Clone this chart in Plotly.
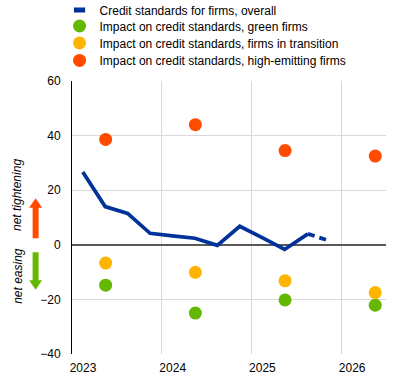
import plotly.graph_objects as go

# ---- data ----
line_x = [2023.12, 2023.37, 2023.62, 2023.87, 2024.12, 2024.37, 2024.62, 2024.87, 2025.12, 2025.37, 2025.63]
line_y = [26.7, 14.0, 11.5, 4.2, 3.3, 2.4, -0.2, 6.8, 2.6, -1.7, 4.0]
fcst_x = [2025.63, 2025.88]
fcst_y = [4.0, 1.3]

dot_x = [2023.375, 2024.375, 2025.375, 2026.38]
green_y = [-14.8, -25.0, -20.2, -22.1]
transition_y = [-6.7, -10.1, -13.2, -17.5]
high_y = [38.6, 44.0, 34.5, 32.5]

names = [
    "Credit standards for firms, overall",
    "Impact on credit standards, green firms",
    "Impact on credit standards, firms in transition",
    "Impact on credit standards, high-emitting firms",
]
year_ticks = [2023, 2024, 2025, 2026]

BLUE = "#003299"
GREEN = "#65B800"
YELLOW = "#FFB400"
RED = "#FF4B00"
FONT = "Liberation Sans, Arial, sans-serif"

W, H = 402, 381
L, R, T, B = 71.5, 15.5, 80.5, 26.5
W_PLOT = W - L - R
H_PLOT = H - T - B

def px2x(px):
    return (px - L) / W_PLOT

def px2y(py):
    return 1 - (py - T) / H_PLOT

fig = go.Figure()
fig.add_trace(go.Scatter(x=line_x, y=line_y, mode="lines", line=dict(color=BLUE, width=3.7),
                         showlegend=False, hoverinfo="skip"))
fig.add_trace(go.Scatter(x=fcst_x, y=fcst_y, mode="lines", line=dict(color=BLUE, width=3.7, dash="7px,5px"),
                         showlegend=False, hoverinfo="skip"))
# legend entry for the line (short thick bar)
fig.add_trace(go.Scatter(x=[None], y=[None], mode="markers", name=names[0], legend="legend",
                         marker=dict(symbol="line-ew", size=8, color=BLUE,
                                     line=dict(color=BLUE, width=5))))
for yv, col, nm, lg in [(green_y, GREEN, names[1], "legend2"),
                        (transition_y, YELLOW, names[2], "legend3"),
                        (high_y, RED, names[3], "legend4")]:
    fig.add_trace(go.Scatter(x=dot_x, y=yv, mode="markers", name=nm, legend=lg,
                             marker=dict(color=col, size=13, line=dict(width=0))))

row_y = [9.3, 25.3, 42.3, 59.8]
legend_common = dict(x=px2x(59), xanchor="left", yanchor="middle",
                     bgcolor="rgba(0,0,0,0)", font=dict(family=FONT, size=12, color="#000000"))

fig.update_layout(
    width=W, height=H,
    margin=dict(l=L, r=R, t=T, b=B, autoexpand=False),
    paper_bgcolor="white", plot_bgcolor="white",
    font=dict(family=FONT, size=12, color="#000000"),
    legend=dict(y=px2y(row_y[0]), **legend_common),
    legend2=dict(y=px2y(row_y[1]), **legend_common),
    legend3=dict(y=px2y(row_y[2]), **legend_common),
    legend4=dict(y=px2y(row_y[3]), **legend_common),
    xaxis=dict(range=[2023, 2026.5], tickvals=year_ticks, ticktext=[str(v) for v in year_ticks],
               showgrid=True, gridcolor="#d9d9d9", gridwidth=1, zeroline=False,
               showline=False, ticks="", ticklabelshift=11, ticklabelstandoff=5,
               tickfont=dict(size=12, color="#000000"), fixedrange=True),
    yaxis=dict(range=[-40, 60], dtick=20, showgrid=True, gridcolor="#d9d9d9", gridwidth=1,
               zeroline=True, zerolinecolor="#595959", zerolinewidth=2,
               showline=True, linecolor="#000000", linewidth=1, ticks="",
               ticklabelstandoff=8, tickfont=dict(size=12, color="#000000"), fixedrange=True),
)

# side labels
fig.add_annotation(text="net tightening", xref="paper", yref="y", x=px2x(17), y=4.2,
                   xanchor="center", yanchor="bottom", textangle=-90, showarrow=False,
                   font=dict(family=FONT, size=12, color="#000000", style="italic"))
fig.add_annotation(text="net easing", xref="paper", yref="y", x=px2x(17), y=-0.5,
                   xanchor="center", yanchor="top", textangle=-90, showarrow=False,
                   font=dict(family=FONT, size=12, color="#000000", style="italic"))

# arrows (pixel-sized paths anchored at the zero line)
up = "M -3,6.6 L 3,6.6 L 3,37 L 6.5,37 L 0,46.6 L -6.5,37 L -3,37 Z"
down = "M -3,-7.4 L 3,-7.4 L 3,-35.5 L 6.5,-35.5 L 0,-45 L -6.5,-35.5 L -3,-35.5 Z"
for p, c in [(up, RED), (down, GREEN)]:
    fig.add_shape(type="path", path=p, xref="paper", yref="y",
                  xsizemode="pixel", ysizemode="pixel", xanchor=px2x(35), yanchor=0,
                  fillcolor=c, line=dict(width=0), layer="above")

fig.write_html("out.html", config={"displayModeBar": False},
               post_script="document.body.style.margin='0';document.body.style.overflow='hidden';")
